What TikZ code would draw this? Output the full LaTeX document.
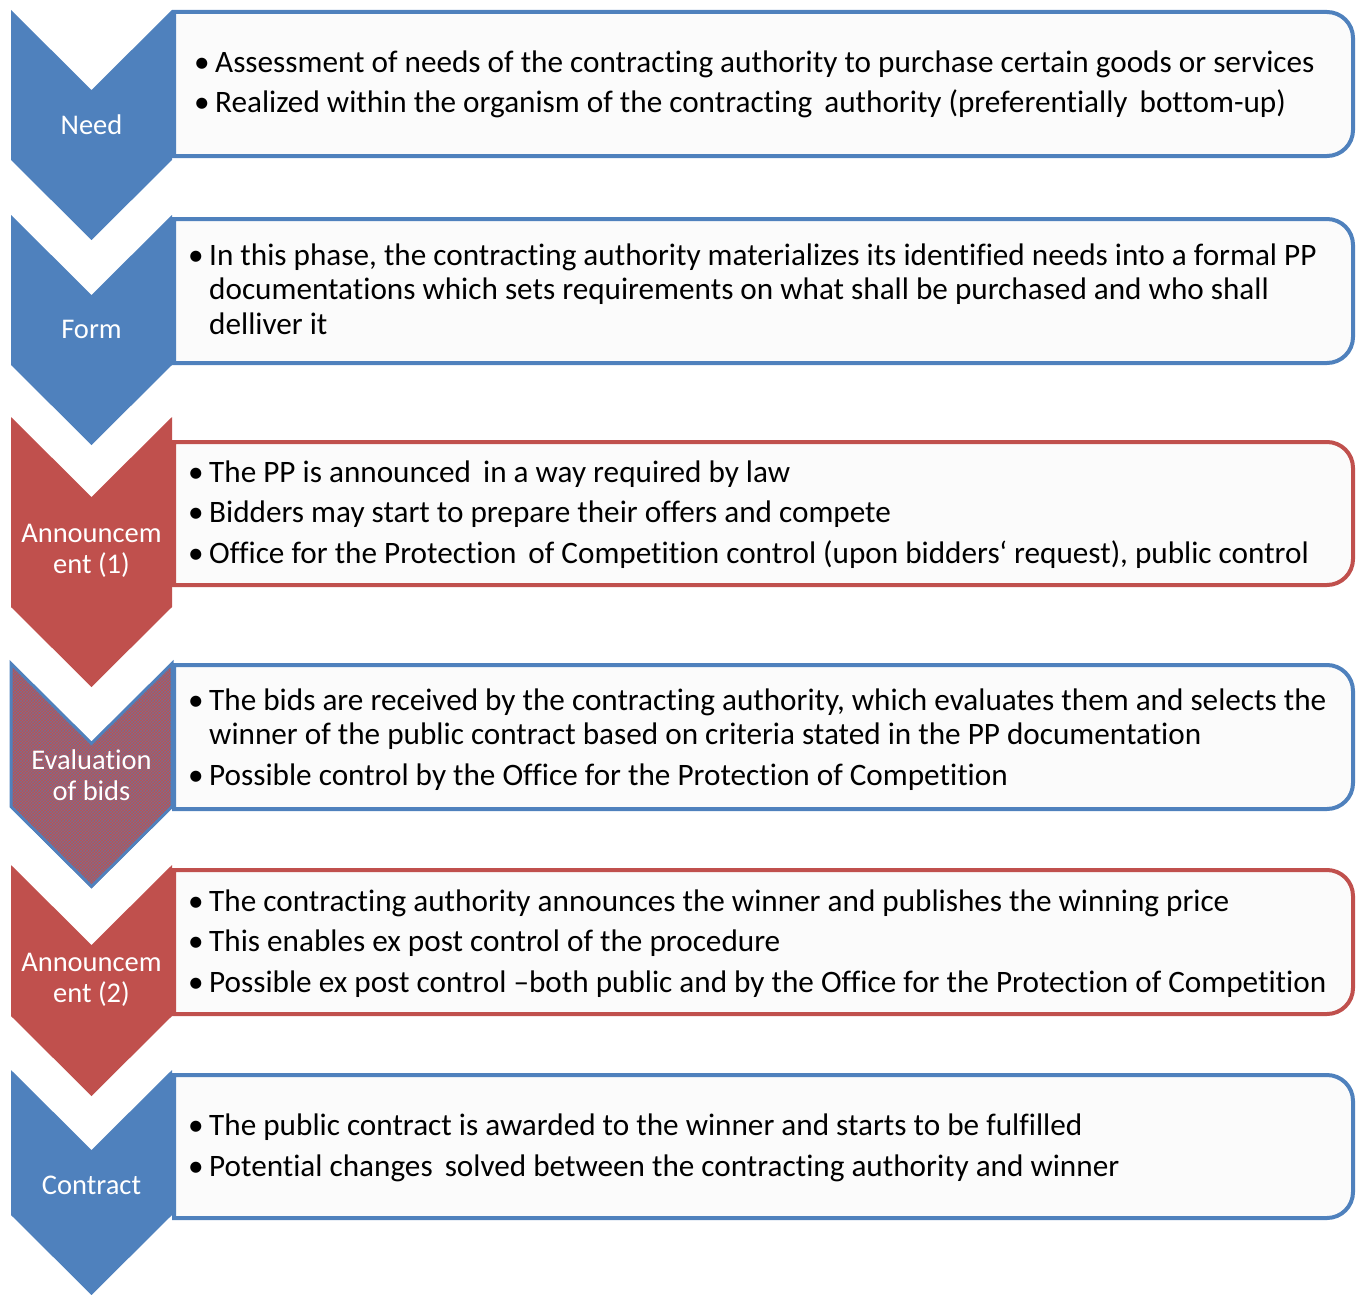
\documentclass[tikz,border=0pt]{standalone}
\usepackage{fontspec}
\setmainfont{Carlito}[Ligatures=NoCommon]
\usetikzlibrary{patterns}
\definecolor{cblue}{HTML}{4F81BD}
\definecolor{cred}{HTML}{C0504D}
\definecolor{boxfill}{HTML}{FBFBFB}
\newcommand{\xsp}{\hspace{5pt} }
\tikzset{
  bluechev/.style={fill=cblue, draw=none},
  redchev/.style={fill=cred, draw=none},
  chevlabel/.style={text=white, font=\fontsize{28.5}{31}\selectfont, align=center, inner sep=0pt},
  boxtxt/.style={anchor=base west, inner sep=0pt, font=\fontsize{31.2}{35}\selectfont, text=black},
  bluebox/.style={draw=cblue, line width=4pt, fill=boxfill},
  redbox/.style={draw=cred, line width=4pt, fill=boxfill},
}
\newcommand{\chevpath}[2]{(11,#1) -- (91.5,#1+80) -- (172,#1) -- (172,#2) -- (91.5,#2+80) -- (11,#2) -- cycle}
\newcommand{\boxpath}[2]{(174,#1) -- (1327,#1) arc[start angle=-90,end angle=0,radius=26] -- (1353,#2-26) arc[start angle=0,end angle=90,radius=26] -- (174,#2) -- cycle}
\begin{document}
\begin{tikzpicture}[x=1pt,y=-1pt]
\useasboundingbox (0,0) rectangle (1357,1295);
% boxes
\draw[bluebox] \boxpath{12}{156};
\draw[bluebox] \boxpath{219}{363};
\draw[redbox] \boxpath{442}{585};
\draw[bluebox] \boxpath{665}{809};
\draw[redbox] \boxpath{870}{1014};
\draw[bluebox] \boxpath{1075}{1218};
% chevrons
\fill[bluechev] \chevpath{10}{160};
\fill[bluechev] \chevpath{215}{365};
\fill[redchev] \chevpath{417}{607};
\fill[cred] \chevpath{662}{808};
\fill[pattern=crosshatch, pattern color=cblue!60!cred] \chevpath{662}{808};
\draw[cblue, line width=3pt] \chevpath{663.5}{806.5};
\fill[redchev] \chevpath{865}{1016};
\fill[bluechev] \chevpath{1070}{1215};
% chevron labels
\node[chevlabel] (lneed) at (91.5,125) {Need};
\node[chevlabel] (lform) at (91.5,329) {Form};
\node[chevlabel] (lann1) at (91.5,551) {Announcem\\ent (1)};
\node[chevlabel] (leval) at (91.5,775) {Evaluation\\of bids};
\node[chevlabel] (lann2) at (91.5,980) {Announcem\\ent (2)};
\node[chevlabel] (lcont) at (91.5,1185) {Contract};
% Need
\node[boxtxt] (n1b) at (194,73) {•};
\node[boxtxt] (n1) at (215,73) {Assessment of needs of the contracting authority to purchase certain goods or services};
\node[boxtxt] (n2b) at (194,113) {•};
\node[boxtxt] (n2) at (215,113) {Realized within the organism of the contracting\xsp authority (preferentially\xsp bottom-up)};
% Form
\node[boxtxt] (f1b) at (188,265) {•};
\node[boxtxt] (f1) at (209,265) {In this phase, the contracting authority materializes its identified needs into a formal PP};
\node[boxtxt] (f2) at (209,299) {documentations which sets requirements on what shall be purchased and who shall};
\node[boxtxt] (f3) at (209,334) {delliver it};
% Announcement 1
\node[boxtxt] (a1b) at (188,482) {•};
\node[boxtxt] (a1) at (209,482) {The PP is announced\xsp in a way required by law};
\node[boxtxt] (a2b) at (188,522) {•};
\node[boxtxt] (a2) at (209,522) {Bidders may start to prepare their offers and compete};
\node[boxtxt] (a3b) at (188,563) {•};
\node[boxtxt] (a3) at (209,563) {Office for the Protection\xsp of Competition control (upon bidders‘ request), public control};
% Evaluation
\node[boxtxt] (e1b) at (188,710) {•};
\node[boxtxt] (e1) at (209,710) {The bids are received by the contracting authority, which evaluates them and selects the};
\node[boxtxt] (e2) at (209,744) {winner of the public contract based on criteria stated in the PP documentation};
\node[boxtxt] (e3b) at (188,785) {•};
\node[boxtxt] (e3) at (209,785) {Possible control by the Office for the Protection of Competition};
% Announcement 2
\node[boxtxt] (c1b) at (188,911) {•};
\node[boxtxt] (c1) at (209,911) {The contracting authority announces the winner and publishes the winning price};
\node[boxtxt] (c2b) at (188,951) {•};
\node[boxtxt] (c2) at (209,951) {This enables ex post control of the procedure};
\node[boxtxt] (c3b) at (188,992) {•};
\node[boxtxt] (c3) at (209,992) {Possible ex post control –both public and by the Office for the Protection of Competition};
% Contract
\node[boxtxt] (k1b) at (188,1135) {•};
\node[boxtxt] (k1) at (209,1135) {The public contract is awarded to the winner and starts to be fulfilled};
\node[boxtxt] (k2b) at (188,1176) {•};
\node[boxtxt] (k2) at (209,1176) {Potential changes\xsp solved between the contracting authority and winner};
\end{tikzpicture}
\end{document}
